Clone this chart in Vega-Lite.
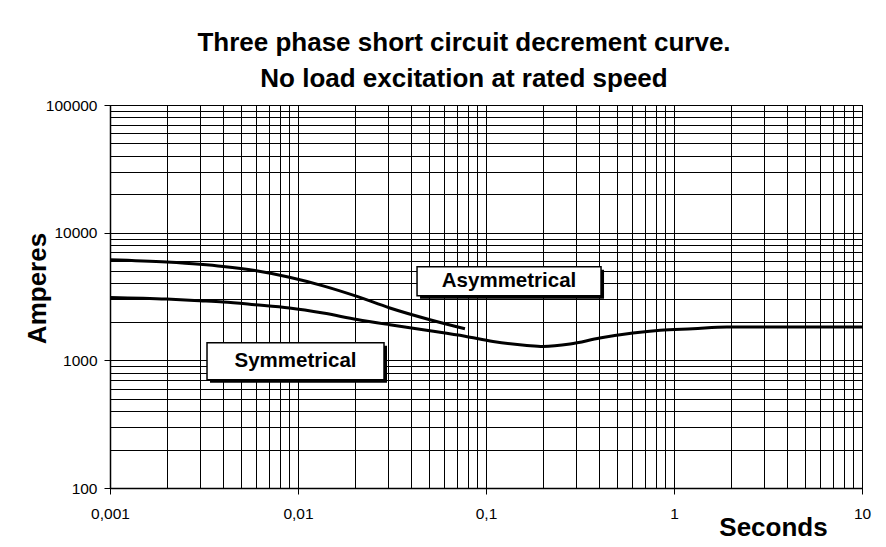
{
  "$schema": "https://vega.github.io/schema/vega-lite/v6.json",
  "width": 752,
  "height": 383,
  "autosize": {"type": "none"},
  "padding": {"left": 110, "top": 105, "right": 24, "bottom": 59},
  "background": "white",
  "config": {
    "font": "Liberation Sans",
    "view": {"stroke": "black", "strokeWidth": 1}
  },
  "title": {
    "text": ["Three phase short circuit decrement curve.", "No load excitation at rated speed"],
    "font": "Liberation Sans",
    "fontSize": 26,
    "fontWeight": "bold",
    "color": "black",
    "lineHeight": 36,
    "anchor": "middle",
    "dx": -22,
    "offset": 6
  },
  "datasets": {
    "curves": [
      {"series": "Asymmetrical", "t": 0.001, "amps": 6140},
      {"series": "Asymmetrical", "t": 0.002, "amps": 5890},
      {"series": "Asymmetrical", "t": 0.003, "amps": 5660},
      {"series": "Asymmetrical", "t": 0.004, "amps": 5440},
      {"series": "Asymmetrical", "t": 0.0059, "amps": 5050},
      {"series": "Asymmetrical", "t": 0.009, "amps": 4470},
      {"series": "Asymmetrical", "t": 0.0136, "amps": 3830},
      {"series": "Asymmetrical", "t": 0.0206, "amps": 3166},
      {"series": "Asymmetrical", "t": 0.0308, "amps": 2570},
      {"series": "Asymmetrical", "t": 0.0503, "amps": 2080},
      {"series": "Asymmetrical", "t": 0.0773, "amps": 1767},
      {"series": "Symmetrical", "t": 0.001, "amps": 3110},
      {"series": "Symmetrical", "t": 0.002, "amps": 3020},
      {"series": "Symmetrical", "t": 0.003, "amps": 2930},
      {"series": "Symmetrical", "t": 0.004, "amps": 2862},
      {"series": "Symmetrical", "t": 0.0059, "amps": 2725},
      {"series": "Symmetrical", "t": 0.009, "amps": 2570},
      {"series": "Symmetrical", "t": 0.0136, "amps": 2346},
      {"series": "Symmetrical", "t": 0.0206, "amps": 2090},
      {"series": "Symmetrical", "t": 0.0308, "amps": 1900},
      {"series": "Symmetrical", "t": 0.0503, "amps": 1706},
      {"series": "Symmetrical", "t": 0.0773, "amps": 1545},
      {"series": "Symmetrical", "t": 0.109, "amps": 1406},
      {"series": "Symmetrical", "t": 0.165, "amps": 1309},
      {"series": "Symmetrical", "t": 0.201, "amps": 1285},
      {"series": "Symmetrical", "t": 0.28, "amps": 1342},
      {"series": "Symmetrical", "t": 0.403, "amps": 1495},
      {"series": "Symmetrical", "t": 0.605, "amps": 1636},
      {"series": "Symmetrical", "t": 0.844, "amps": 1721},
      {"series": "Symmetrical", "t": 1.26, "amps": 1768},
      {"series": "Symmetrical", "t": 1.91, "amps": 1823},
      {"series": "Symmetrical", "t": 3, "amps": 1825},
      {"series": "Symmetrical", "t": 10, "amps": 1825}
    ],
    "labels": [
      {"label": "Asymmetrical", "t": 0.1326, "amps": 4164},
      {"label": "Symmetrical", "t": 0.0097, "amps": 984}
    ]
  },
  "encoding": {
    "x": {
      "field": "t",
      "type": "quantitative",
      "scale": {"type": "log", "domain": [0.001, 10], "nice": false, "zero": false},
      "axis": {
        "values": [0.001, 0.002, 0.003, 0.004, 0.005, 0.006, 0.007, 0.008, 0.009, 0.01, 0.02, 0.03, 0.04, 0.05, 0.06, 0.07, 0.08, 0.09, 0.1, 0.2, 0.3, 0.4, 0.5, 0.6, 0.7, 0.8, 0.9, 1, 2, 3, 4, 5, 6, 7, 8, 9, 10],
        "title": "Seconds",
        "titleFont": "Liberation Sans",
        "titleFontSize": 26,
        "titleFontWeight": "bold",
        "titleColor": "black",
        "titleX": 663,
        "titleY": 47,
        "titleAlign": "center",
        "titleBaseline": "alphabetic",
        "grid": true,
        "gridColor": "#000000",
        "gridWidth": 1,
        "gridOpacity": 1,
        "domain": true,
        "domainColor": "black",
        "domainWidth": 1.5,
        "ticks": true,
        "tickSize": 6,
        "tickColor": "black",
        "tickWidth": 1,
        "tickOpacity": {"condition": {"test": "abs(log(datum.value)/LN10 - round(log(datum.value)/LN10)) < 0.001", "value": 1}, "value": 0},
        "labelExpr": "abs(log(datum.value)/LN10 - round(log(datum.value)/LN10)) < 0.001 ? replace(toString(datum.value), '.', ',') : ''",
        "labelFont": "Liberation Sans",
        "labelFontSize": 15.5,
        "labelColor": "black",
        "labelPadding": 12,
        "labelFlush": false,
        "labelOverlap": false,
        "labelBound": false
      }
    },
    "y": {
      "field": "amps",
      "type": "quantitative",
      "scale": {"type": "log", "domain": [100, 100000], "nice": false, "zero": false},
      "axis": {
        "values": [100, 200, 300, 400, 500, 600, 700, 800, 900, 1000, 2000, 3000, 4000, 5000, 6000, 7000, 8000, 9000, 10000, 20000, 30000, 40000, 50000, 60000, 70000, 80000, 90000, 100000],
        "title": "Amperes",
        "titleFont": "Liberation Sans",
        "titleFontSize": 26,
        "titleFontWeight": "bold",
        "titleColor": "black",
        "titleAngle": -90,
        "titleX": -65,
        "titleY": 183,
        "titleAlign": "center",
        "titleBaseline": "alphabetic",
        "grid": true,
        "gridColor": "#000000",
        "gridWidth": 1,
        "gridOpacity": 1,
        "domain": true,
        "domainColor": "black",
        "domainWidth": 1.5,
        "ticks": true,
        "tickSize": 6,
        "tickColor": "black",
        "tickWidth": 1,
        "tickOpacity": {"condition": {"test": "abs(log(datum.value)/LN10 - round(log(datum.value)/LN10)) < 0.001", "value": 1}, "value": 0},
        "labelExpr": "abs(log(datum.value)/LN10 - round(log(datum.value)/LN10)) < 0.001 ? toString(datum.value) : ''",
        "labelFont": "Liberation Sans",
        "labelFontSize": 15.5,
        "labelColor": "black",
        "labelPadding": 7,
        "labelFlush": false,
        "labelOverlap": false,
        "labelBound": false
      }
    }
  },
  "layer": [
    {
      "data": {"name": "curves"},
      "mark": {"type": "line", "color": "black", "strokeWidth": 3, "interpolate": "monotone", "clip": true},
      "encoding": {"detail": {"field": "series", "type": "nominal"}}
    },
    {
      "data": {"name": "labels"},
      "transform": [{"filter": "datum.label === 'Asymmetrical'"}],
      "mark": {"type": "point", "filled": true, "color": "black", "opacity": 1, "size": 33856, "shape": "M-0.9674,-0.125L1.0326,-0.125L1.0326,0.1902L-0.9674,0.1902Z"},
      "encoding": {}
    },
    {
      "data": {"name": "labels"},
      "transform": [{"filter": "datum.label === 'Asymmetrical'"}],
      "mark": {"type": "point", "filled": true, "fill": "white", "stroke": "black", "strokeWidth": 1.5, "opacity": 1, "fillOpacity": 1, "size": 33856, "shape": "M-1,-0.1576L1,-0.1576L1,0.1576L-1,0.1576Z"},
      "encoding": {}
    },
    {
      "data": {"name": "labels"},
      "transform": [{"filter": "datum.label === 'Symmetrical'"}],
      "mark": {"type": "point", "filled": true, "color": "black", "opacity": 1, "size": 31329, "shape": "M-0.9661,-0.175L1.0339,-0.175L1.0339,0.2429L-0.9661,0.2429Z"},
      "encoding": {}
    },
    {
      "data": {"name": "labels"},
      "transform": [{"filter": "datum.label === 'Symmetrical'"}],
      "mark": {"type": "point", "filled": true, "fill": "white", "stroke": "black", "strokeWidth": 1.5, "opacity": 1, "fillOpacity": 1, "size": 31329, "shape": "M-1,-0.209L1,-0.209L1,0.209L-1,0.209Z"},
      "encoding": {}
    },
    {
      "data": {"name": "labels"},
      "mark": {"type": "text", "font": "Liberation Sans", "fontSize": 20.5, "fontWeight": "bold", "color": "black", "align": "center", "baseline": "middle"},
      "encoding": {"text": {"field": "label", "type": "nominal"}}
    }
  ]
}
